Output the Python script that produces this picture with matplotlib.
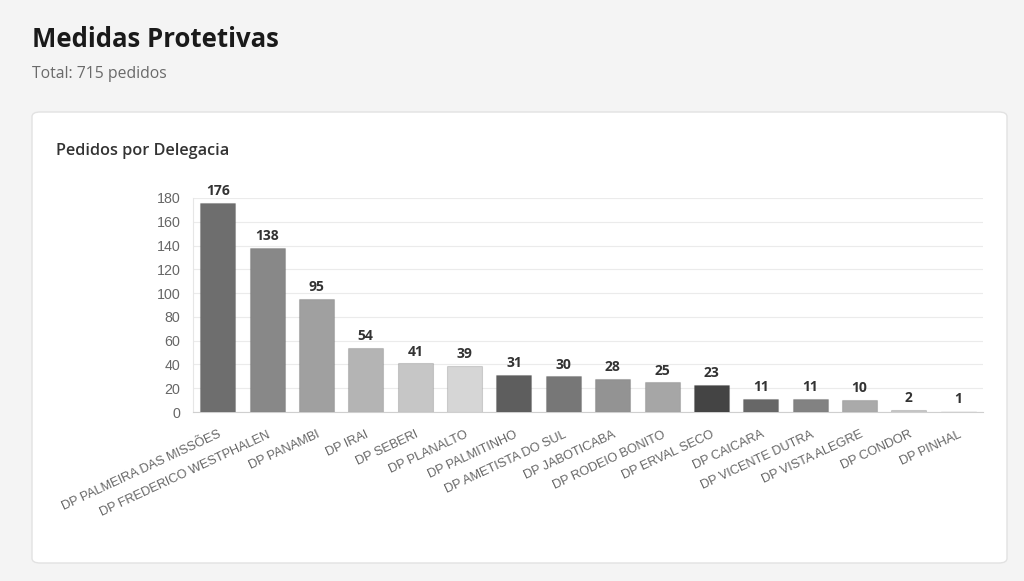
import matplotlib
matplotlib.use("Agg")
import matplotlib.pyplot as plt
from matplotlib.patches import FancyBboxPatch
import numpy as np

# data
delegacias = [
    "DP PALMEIRA DAS MISSÕES", "DP FREDERICO WESTPHALEN", "DP PANAMBI", "DP IRAI",
    "DP SEBERI", "DP PLANALTO", "DP PALMITINHO", "DP AMETISTA DO SUL",
    "DP JABOTICABA", "DP RODEIO BONITO", "DP ERVAL SECO", "DP CAICARA",
    "DP VICENTE DUTRA", "DP VISTA ALEGRE", "DP CONDOR", "DP PINHAL",
]
pedidos = [176, 138, 95, 54, 41, 39, 31, 30, 28, 25, 23, 11, 11, 10, 2, 1]
cores = [
    "#6e6e6e", "#888888", "#a0a0a0", "#b4b4b4", "#c6c6c6", "#d6d6d6",
    "#5e5e5e", "#777777", "#939393", "#a6a6a6", "#444444", "#676767",
    "#828282", "#aaaaaa", "#c8c8c8", "#f2f2f2",
]
yticks = [0, 20, 40, 60, 80, 100, 120, 140, 160, 180]
total = sum(pedidos)

W, H = 1024, 581
fig = plt.figure(figsize=(W / 100, H / 100), dpi=100)
fig.patch.set_facecolor("#f4f4f4")

# white card behind the chart
card = FancyBboxPatch((32 / W, 1 - 563 / H), (1007 - 32) / W, (563 - 112) / H,
                      boxstyle="round,pad=0,rounding_size=0.008",
                      transform=fig.transFigure, facecolor="white",
                      edgecolor="#e2e2e2", linewidth=1, zorder=-5)
fig.patches.append(card)

fig.text(32 / W, 1 - 47 / H, "Medidas Protetivas", fontsize=18.5, fontweight="bold",
         family="Open Sans", color="#1a1a1a", va="baseline")
fig.text(32 / W, 1 - 78 / H, f"Total: {total} pedidos", fontsize=11.3,
         family="Open Sans", color="#6a6a6a", va="baseline")
fig.text(56 / W, 1 - 155 / H, "Pedidos por Delegacia", fontsize=11.7,
         family="Open Sans", fontweight="semibold", color="#333333", va="baseline")

ax = fig.add_axes([193 / W, 1 - 412 / H, (983 - 193) / W, (412 - 198) / H])
ax.set_zorder(2)
ax.set_facecolor("none")
x = np.arange(len(delegacias))
bars = ax.bar(x, pedidos, width=0.71, color=cores, edgecolor="#00000022",
              linewidth=0.8, zorder=3)
bars[-1].set_edgecolor("#00000008")

for xi, v in zip(x, pedidos):
    ax.text(xi, v + 4, str(v), ha="center", va="bottom", fontsize=10,
            fontweight="bold", family="Open Sans", color="#333333", zorder=4)

ax.set_xlim(-0.5, len(delegacias) - 0.5)
ax.set_ylim(0, 180)
ax.set_yticks(yticks)
ax.set_xticks(x)
ax.set_xticklabels(delegacias, rotation=25, ha="right", rotation_mode="anchor",
                   fontsize=9.2, family="Liberation Sans", color="#666666")
for lab in ax.get_yticklabels():
    lab.set_family("Liberation Sans")
ax.tick_params(axis="y", labelsize=10.3, labelcolor="#666666", length=0, pad=9)
ax.tick_params(axis="x", length=0, pad=12)
ax.grid(axis="y", color="#ebebeb", linewidth=0.8, zorder=0)
for s in ["top", "right"]:
    ax.spines[s].set_visible(False)
ax.spines["left"].set_color("#e6e6e6")
ax.spines["bottom"].set_color("#cfcfcf")

fig.savefig("out.png", dpi=100, facecolor=fig.get_facecolor())
